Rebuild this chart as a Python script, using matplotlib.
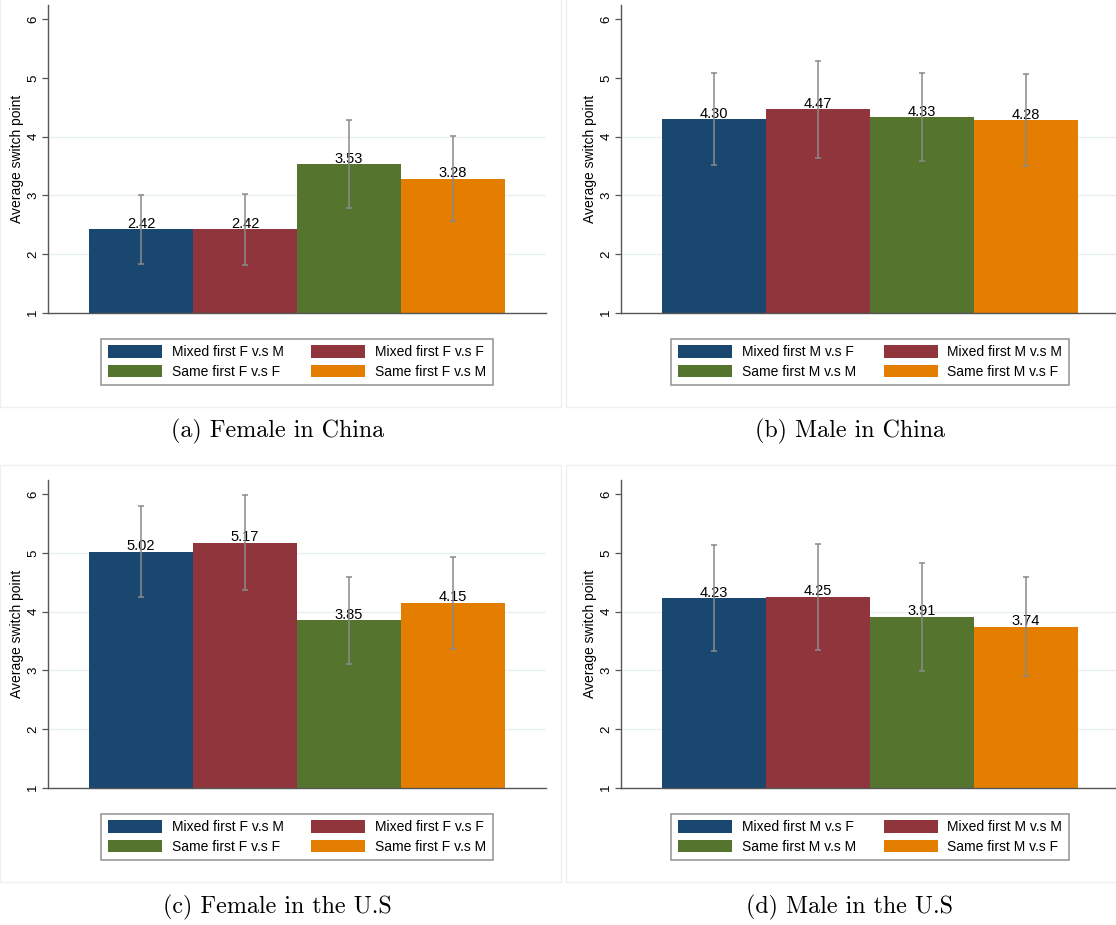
import matplotlib as mpl
import matplotlib.pyplot as plt
from matplotlib.patches import Patch, Rectangle

mpl.rcParams["font.family"] = ["Liberation Sans", "DejaVu Sans"]

# Stata s2color palette
colors = ["#1a476f", "#90353b", "#55752f", "#e37e00"]

labels_female = ["Mixed first F v.s M", "Mixed first F v.s F",
                 "Same first F v.s F", "Same first F v.s M"]
labels_male = ["Mixed first M v.s F", "Mixed first M v.s M",
               "Same first M v.s M", "Same first M v.s F"]

captions = ["(a) Female in China", "(b) Male in China",
            "(c) Female in the U.S", "(d) Male in the U.S"]

# mean switch point and the ends of the confidence bars
means_a = [2.42, 2.42, 3.53, 3.28]
lo_a = [1.83, 1.82, 2.79, 2.56]
hi_a = [3.00, 3.02, 4.28, 4.01]

means_b = [4.30, 4.47, 4.33, 4.28]
lo_b = [3.51, 3.64, 3.58, 3.50]
hi_b = [5.08, 5.28, 5.08, 5.06]

means_c = [5.02, 5.17, 3.85, 4.15]
lo_c = [4.25, 4.36, 3.11, 3.36]
hi_c = [5.79, 5.98, 4.59, 4.93]

means_d = [4.23, 4.25, 3.91, 3.74]
lo_d = [3.33, 3.34, 2.99, 2.90]
hi_d = [5.13, 5.15, 4.82, 4.58]

yticks = [1, 2, 3, 4, 5, 6]

W, H = 1116, 925
fig = plt.figure(figsize=(W / 100, H / 100), dpi=100)


def px_axes(left, top, right, bottom):
    return fig.add_axes([left / W, 1 - bottom / H, (right - left) / W, (bottom - top) / H])


def draw_panel(ax, means, lo, hi, labels, grid_top):
    x = list(range(len(means)))
    ax.bar(x, means, width=1.0, color=colors, linewidth=0, zorder=2)
    for xi, m in zip(x, means):
        ax.annotate(f"{m:.2f}", (xi, m), xytext=(0, 1), textcoords="offset points",
                    ha="center", va="baseline", fontsize=10.5, zorder=3)
    yerr = [[m - l for m, l in zip(means, lo)], [h - m for m, h in zip(means, hi)]]
    ax.errorbar(x, means, yerr=yerr, fmt="none", ecolor="#8a8a8a",
                elinewidth=1.1, capsize=2.5, capthick=1.1, zorder=4)

    ax.set_xlim(-0.894, 3.894)
    ax.set_ylim(1, 6.24)
    ax.set_yticks(yticks)
    ax.set_yticklabels([str(t) for t in yticks], rotation=90, va="center", fontsize=9.5)
    ax.tick_params(axis="y", length=4.3, width=0.9, color="#555555", pad=2)
    ax.set_xticks([])
    for g in yticks[1:grid_top]:
        ax.axhline(g, color="#e6eeef", linewidth=0.9, zorder=1)
    ax.set_ylabel("Average switch point", fontsize=10, labelpad=2)
    for s in ["top", "right"]:
        ax.spines[s].set_visible(False)
    for s in ["left", "bottom"]:
        ax.spines[s].set_color("#555555")
        ax.spines[s].set_linewidth(1.0)

    # matplotlib fills legend columns first; Stata fills rows first
    order = [0, 2, 1, 3]
    handles = [Patch(facecolor=colors[i], edgecolor="none") for i in order]
    leg = ax.legend(handles, [labels[i] for i in order], ncol=2, loc="upper center",
                    bbox_to_anchor=(0.5, -26.5 / 307.7), borderaxespad=0,
                    fontsize=10, frameon=True, fancybox=False,
                    handlelength=3.9, handleheight=1.0, handletextpad=0.7,
                    columnspacing=2.0, labelspacing=0.4, borderpad=0.45)
    leg.get_frame().set_edgecolor("#777777")
    leg.get_frame().set_linewidth(1.1)


# faint graph-region borders
for (l, t, r, b) in [(0, -2, 561, 407), (566, -2, 1118, 407),
                     (0, 465, 561, 882), (566, 465, 1118, 882)]:
    fig.patches.append(Rectangle((l / W, 1 - b / H), (r - l) / W, (b - t) / H,
                                 transform=fig.transFigure, fill=False,
                                 edgecolor="#f0f0f0", linewidth=1))

ax_a = px_axes(48, 5, 546, 312.7)
ax_b = px_axes(621, 5, 1119, 312.7)
ax_c = px_axes(48, 480, 546, 787.7)
ax_d = px_axes(621, 480, 1119, 787.7)

draw_panel(ax_a, means_a, lo_a, hi_a, labels_female, 4)
draw_panel(ax_b, means_b, lo_b, hi_b, labels_male, 4)
draw_panel(ax_c, means_c, lo_c, hi_c, labels_female, 5)
draw_panel(ax_d, means_d, lo_d, hi_d, labels_male, 4)

for cap, (cx, cy) in zip(captions, [(278, 431), (850, 431), (277, 907), (850, 907)]):
    fig.text(cx / W, 1 - cy / H, cap, ha="center", va="center",
             fontsize=17.3, family="cmr10")

fig.savefig("out.png", dpi=100)
